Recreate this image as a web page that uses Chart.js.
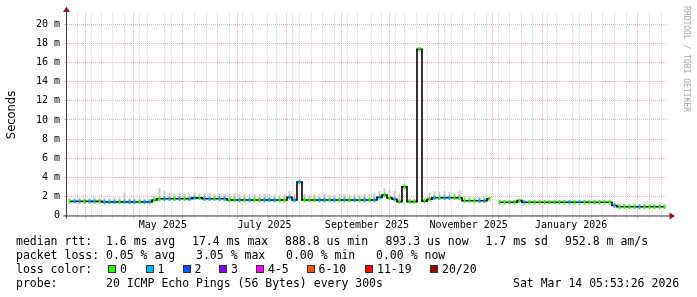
<!DOCTYPE html>
<html>
<head>
<meta charset="utf-8">
<script src="https://cdn.jsdelivr.net/npm/chart.js@4.4.1/dist/chart.umd.min.js"></script>
<style>
  body { margin: 0; background: #fff; }
  #wrap { position: relative; width: 697px; height: 297px; overflow: hidden; background: #fff; }
  #c { position: absolute; left: 0; top: 0; }
  .t { position: absolute; font-family: "DejaVu Sans Mono", monospace; font-size: 11.5px; line-height: 14px; white-space: pre; color: #000; }
  .box { position: absolute; width: 6px; height: 6px; border: 1px solid #333; top: 265px; }
  #ylab { position: absolute; left: -14px; top: 108px; width: 50px; text-align: center; font-family: "DejaVu Sans", sans-serif; font-size: 11.5px; transform: rotate(-90deg); transform-origin: 25px 7px; line-height: 14px; }
  #credit { position: absolute; left: 631px; top: 54px; width: 110px; font-family: "DejaVu Sans Mono", monospace; font-size: 8px; color: #a8a8a8; transform: rotate(90deg); transform-origin: 55px 5px; line-height: 10px; text-align: center; white-space: pre; }
</style>
</head>
<body>
<div id="wrap">
  <canvas id="c" width="697" height="297"></canvas>
  <div id="ylab">Seconds</div>
  <div id="credit">RRDTOOL / TOBI OETIKER</div>
  <div id="legend"></div>
  <div class="t" style="left:16px;top:248px">packet loss: 0.05 % avg   3.05 % max   0.00 % min   0.00 % now</div>
  <div class="t" style="left:16px;top:262px">loss color:</div>
  <div class="t" style="left:16px;top:276px">probe:       20 ICMP Echo Pings (56 Bytes) every 300s</div>
  <div class="t" style="left:513px;top:276px">Sat Mar 14 05:53:26 2026</div>
</div>
<script>
// --- data: days since 1 Apr 2025, one sample per 3 days ---
const days = [
  -10.5, -7.5, -4.5, -1.5, 1.5, 4.5, 7.5, 10.5, 13.5, 16.5,
  19.5, 22.5, 25.5, 28.5, 31.5, 34.5, 37.5, 40.5, 43.5, 46.5,
  49.5, 52.5, 55.5, 58.5, 61.5, 64.5, 67.5, 70.5, 73.5, 76.5,
  79.5, 82.5, 85.5, 88.5, 91.5, 94.5, 97.5, 100.5, 103.5, 106.5,
  109.5, 112.5, 115.5, 118.5, 121.5, 124.5, 127.5, 130.5, 133.5, 136.5,
  139.5, 142.5, 145.5, 148.5, 151.5, 154.5, 157.5, 160.5, 163.5, 166.5,
  169.5, 172.5, 175.5, 178.5, 181.5, 184.5, 187.5, 190.5, 193.5, 196.5,
  199.5, 202.5, 205.5, 208.5, 211.5, 214.5, 217.5, 220.5, 223.5, 226.5,
  229.5, 232.5, 235.5, 238.5, 241.5, 244.5, 247.5, 250.5, 253.5, 256.5,
  259.5, 262.5, 265.5, 268.5, 271.5, 274.5, 277.5, 280.5, 283.5, 286.5,
  289.5, 292.5, 295.5, 298.5, 301.5, 304.5, 307.5, 310.5, 313.5, 316.5,
  319.5, 322.5, 325.5, 328.5, 331.5, 334.5, 337.5, 340.5, 343.5, 346.5
];

// median rtt in ms
const median = [
  1.48, 1.48, 1.48, 1.48, 1.48, 1.48, 1.48, 1.41, 1.41, 1.41,
  1.41, 1.41, 1.41, 1.41, 1.41, 1.41, 1.41, 1.62, 1.75, 1.75,
  1.75, 1.75, 1.75, 1.75, 1.75, 1.84, 1.84, 1.75, 1.75, 1.75,
  1.75, 1.75, 1.62, 1.62, 1.62, 1.62, 1.62, 1.62, 1.62, 1.62,
  1.62, 1.62, 1.62, 1.62, 1.90, 1.62, 3.50, 1.62, 1.62, 1.62,
  1.62, 1.62, 1.62, 1.62, 1.62, 1.62, 1.62, 1.62, 1.62, 1.62,
  1.62, 1.62, 1.90, 2.15, 1.85, 1.70, 1.45, 3.00, 1.45, 1.45,
  17.4, 1.50, 1.70, 1.86, 1.86, 1.86, 1.86, 1.86, 1.86, 1.55,
  1.55, 1.55, 1.55, 1.55, 1.75, null, 1.38, 1.38, 1.38, 1.38,
  1.56, 1.38, 1.38, 1.38, 1.38, 1.38, 1.38, 1.38, 1.38, 1.38,
  1.38, 1.38, 1.38, 1.38, 1.38, 1.38, 1.38, 1.38, 1.38, 1.05,
  0.92, 0.92, 0.92, 0.92, 0.92, 0.92, 0.92, 0.92, 0.92, 0.92
];

// top of the smoke (ms)
const smokeTop = [
  1.80, 1.80, 1.85, 1.80, 1.80, 1.85, 1.80, 1.80, 1.80, 1.85,
  1.85, 2.40, 1.85, 1.80, 1.80, 1.75, 1.75, 2.00, 2.90, 2.60,
  2.35, 2.30, 2.35, 2.25, 2.35, 2.40, 2.35, 2.30, 2.35, 2.25,
  2.30, 2.25, 2.25, 2.35, 2.25, 2.20, 2.25, 2.25, 2.20, 2.25,
  2.25, 2.20, 2.20, 2.25, 2.55, 2.25, 3.60, 2.25, 2.20, 2.20,
  2.20, 2.25, 2.20, 2.20, 2.25, 2.20, 2.20, 2.25, 2.20, 2.25,
  2.25, 2.35, 2.55, 2.85, 2.65, 2.55, 2.25, 3.30, 1.75, 1.75,
  17.6, 1.85, 2.35, 2.55, 2.45, 2.55, 2.45, 2.35, 2.65, 2.05,
  1.95, 1.90, 1.95, 1.90, 2.00, null, 1.55, 1.55, 1.55, 1.55,
  1.70, 1.55, 1.55, 1.55, 1.55, 1.55, 1.55, 1.55, 1.55, 1.55,
  1.55, 1.60, 1.60, 1.55, 1.55, 1.55, 1.55, 1.55, 1.55, 1.25,
  1.15, 1.15, 1.15, 1.20, 1.15, 1.15, 1.15, 1.10, 1.10, 1.10
];

// lost pings per sample (index into lossLabels)
const loss = [
  0, 1, 1, 0, 1, 1, 0, 1, 1, 1,
  0, 1, 1, 1, 0, 1, 1, 0, 0, 1,
  1, 0, 1, 0, 1, 1, 0, 1, 1, 0,
  1, 1, 0, 0, 1, 0, 1, 0, 0, 1,
  1, 1, 0, 0, 1, 1, 1, 0, 0, 0,
  1, 1, 0, 1, 0, 1, 0, 1, 0, 1,
  0, 1, 1, 0, 0, 1, 0, 0, 0, 0,
  0, 0, 0, 1, 0, 1, 1, 0, 0, 0,
  0, 0, 1, 1, 0, 0, 0, 0, 0, 0,
  0, 1, 0, 0, 0, 0, 0, 0, 0, 0,
  1, 0, 1, 0, 0, 0, 0, 0, 0, 1,
  0, 0, 0, 0, 1, 0, 0, 0, 0, 0
];

const lossLabels = ['0', '1', '2', '3', '4-5', '6-10', '11-19', '20/20'];
const lossColors = ['#26ff00', '#00b8ff', '#0059ff', '#7e00ff', '#ff00ff', '#ff5500', '#ff0000', '#a10000'];

// legend text items and their x positions
const rttItems = ['median rtt:  1.6 ms avg', '17.4 ms max', '888.8 us min', '893.3 us now', '1.7 ms sd', '952.8 m am/s'];
const rttItemX = [16, 192, 285, 385.5, 485.5, 565];

// axis: month starts (red grid), month label positions
const monthStarts = [0, 30, 61, 91, 122, 153, 183, 214, 244, 275, 306, 334];
const labelDays = [45.5, 106.5, 168, 229, 290.5];
const labelText = ['May 2025', 'July 2025', 'September 2025', 'November 2025', 'January 2026'];
const firstSunday = -9;

// --- html legend ---
const legend = document.getElementById('legend');
function addText(str, x, y) {
  const t = document.createElement('div');
  t.className = 't';
  t.style.left = x + 'px';
  t.style.top = y + 'px';
  t.textContent = str;
  legend.appendChild(t);
}
rttItems.forEach((s, i) => addText(s, rttItemX[i], 234));

const legendBoxX = [108, 145.5, 182.5, 219, 256, 306.5, 365, 430];
lossLabels.forEach((lab, i) => {
  const b = document.createElement('div');
  b.className = 'box';
  b.style.left = legendBoxX[i] + 'px';
  b.style.background = lossColors[i];
  legend.appendChild(b);
  addText(lab, legendBoxX[i] + 12, 262);
});

// --- build datasets ---
const HALF = 0.23; // half thickness of the median band, ms
const smokeData = days.map((d, i) => ({ x: d, y: median[i] === null ? null : [median[i], smokeTop[i]] }));
const medData = days.map((d, i) => ({ x: d, y: median[i] === null ? null : [median[i] - HALF, median[i] + HALF] }));
const lineData = days.map((d, i) => ({ x: d, y: median[i] }));

const RED = '#f4b0b0';
const GRAY = '#d6d6d6';

const axesPlugin = {
  id: 'rrdAxes',
  afterDatasetsDraw(chart) {
    const { ctx, chartArea: a } = chart;
    ctx.save();
    ctx.strokeStyle = '#404040';
    ctx.lineWidth = 1;
    ctx.beginPath();
    ctx.moveTo(a.left - 0.5, a.bottom + 3);
    ctx.lineTo(a.left - 0.5, 11);
    ctx.moveTo(a.left - 4, a.bottom + 0.5);
    ctx.lineTo(a.right + 4, a.bottom + 0.5);
    ctx.stroke();
    ctx.fillStyle = '#8b1a1a';
    ctx.beginPath();
    ctx.moveTo(a.left - 0.5, 6.5);
    ctx.lineTo(a.left - 4, 12);
    ctx.lineTo(a.left + 3, 12);
    ctx.closePath();
    ctx.fill();
    ctx.beginPath();
    ctx.moveTo(a.right + 8, a.bottom + 0.5);
    ctx.lineTo(a.right + 2.5, a.bottom - 3);
    ctx.lineTo(a.right + 2.5, a.bottom + 4);
    ctx.closePath();
    ctx.fill();
    ctx.restore();
  }
};

new Chart(document.getElementById('c'), {
  type: 'bar',
  data: {
    datasets: [
      {
        type: 'line',
        data: lineData,
        borderColor: '#000',
        borderWidth: 1.6,
        pointRadius: 0,
        stepped: 'middle',
        spanGaps: false,
        order: 2
      },
      {
        data: medData,
        backgroundColor: loss.map(l => lossColors[l]),
        borderWidth: 0,
        barPercentage: 1.15,
        order: 1
      },
      {
        data: smokeData,
        backgroundColor: '#c9c9c9',
        borderWidth: 0,
        barPercentage: 1.1,
        order: 3
      }
    ]
  },
  options: {
    responsive: false,
    animation: false,
    events: [],
    layout: { padding: { top: 13, right: 30, left: 0, bottom: 0 } },
    plugins: { legend: { display: false }, tooltip: { enabled: false } },
    datasets: { bar: { grouped: false, barPercentage: 1, categoryPercentage: 1 } },
    scales: {
      x: {
        type: 'linear',
        min: -12,
        max: 348,
        offset: false,
        afterFit: s => { s.height = 81.5; },
        afterBuildTicks: s => {
          const vals = new Set(monthStarts.concat(labelDays));
          for (let d = firstSunday; d <= 348; d += 7) vals.add(d);
          s.ticks = Array.from(vals).sort((p, q) => p - q).map(v => ({ value: v }));
        },
        grid: {
          color: c => {
            const v = c.tick && c.tick.value;
            if (monthStarts.includes(v)) return RED;
            if ((v - firstSunday) % 7 === 0) return GRAY;
            return 'rgba(0,0,0,0)';
          },
          tickLength: 3,
          lineWidth: 1
        },
        border: { display: false, dash: [1, 1] },
        ticks: {
          autoSkip: false,
          maxRotation: 0,
          padding: 1,
          color: '#000',
          font: { family: 'DejaVu Sans Mono', size: 10 },
          callback: v => {
            const i = labelDays.indexOf(v);
            return i >= 0 ? labelText[i] : '';
          }
        }
      },
      y: {
        min: 0,
        max: 21.2,
        afterFit: s => { s.width = 67; },
        grid: {
          color: c => (c.tick && c.tick.value % 2 === 0 ? RED : GRAY),
          tickLength: 3,
          lineWidth: 1
        },
        border: { display: false, dash: [1, 1] },
        ticks: {
          stepSize: 1,
          includeBounds: false,
          padding: 4,
          color: '#000',
          font: { family: 'DejaVu Sans Mono', size: 10 },
          callback: v => (v === 0 ? '0' : (v % 2 === 0 ? v + ' m' : ''))
        }
      }
    }
  },
  plugins: [axesPlugin]
});
</script>
</body>
</html>
